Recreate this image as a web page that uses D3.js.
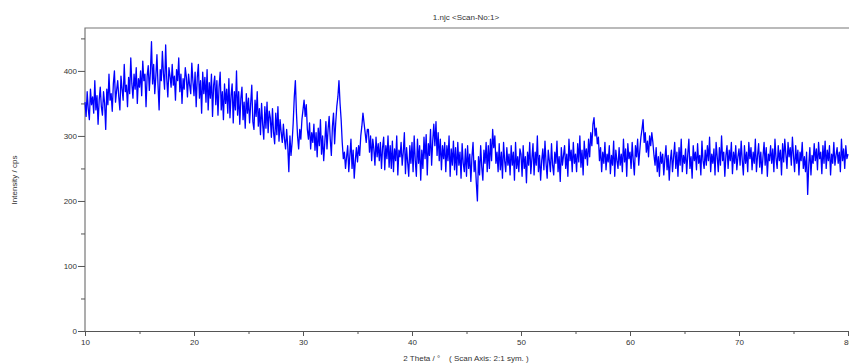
<!DOCTYPE html>
<html>
<head>
<meta charset="utf-8">
<script src="https://cdn.jsdelivr.net/npm/d3@7"></script>
<style>
  html, body { margin: 0; padding: 0; background: #fff; }
  svg { display: block; font-family: "Liberation Sans", Arial, sans-serif; }
</style>
</head>
<body>
<svg width="849" height="363"></svg>
<script>
// scan: 2theta from 10 to 80, step 0.1 deg, counts
const startAngle = 10;
const stepAngle = 0.1;

const counts10 = [
  352, 330, 368, 341, 325, 372, 348, 360, 335, 385,
  340, 362, 318, 355, 375, 345, 332, 368, 350, 310,
  372, 348, 395, 355, 365, 338, 380, 400, 352, 370,
  385, 360, 340, 392, 372, 355, 410, 368, 378, 345,
  390, 365, 420, 380, 358, 395, 372, 405, 350, 388,
  375, 400, 362, 415, 385, 395, 345, 392, 408, 370,
  398, 445, 380, 410, 365, 392, 425, 378, 340, 402,
  385, 430, 395, 372, 440, 388, 360, 405, 392, 375,
  410, 378, 392, 355, 402, 385, 420, 368, 395, 350,
  388, 372, 405, 390, 360, 395, 378, 365, 412, 384
];
const counts20 = [
  362, 398, 345, 390, 410, 358, 385, 335, 398, 365,
  390, 352, 402, 340, 382, 358, 395, 330, 378, 392,
  348, 385, 332, 375, 398, 340, 368, 325, 380, 350,
  372, 335, 388, 328, 362, 380, 320, 368, 340, 400,
  332, 368, 318, 358, 375, 325, 352, 312, 365, 335,
  358, 320, 350, 378, 322, 310, 355, 330, 368, 315,
  342, 302, 350, 318, 295, 345, 312, 352, 305, 338,
  328, 298, 342, 305, 288, 335, 302, 345, 292, 325,
  305, 290, 318, 295, 280, 310, 285, 245, 300, 270,
  290, 320, 360, 385, 335, 300, 280, 310, 295, 325
];
const counts30 = [
  340, 355, 330, 348, 310, 295, 320, 280, 305, 290,
  318, 278, 305, 268, 312, 285, 325, 272, 300, 262,
  290, 322, 280, 310, 330, 295, 270, 315, 335, 288,
  320, 345, 360, 385, 350, 325, 290, 265, 275, 250,
  268, 285, 245, 270, 295, 250, 278, 235, 262, 282,
  260, 285, 270, 300, 315, 335, 320, 305, 290, 310,
  310, 275, 300, 262, 295, 280, 255, 298, 268, 288,
  262, 290, 250, 282, 298, 248, 285, 265, 300, 252,
  285, 250, 292, 245, 280, 262, 300, 240, 278, 268,
  290, 255, 275, 305, 242, 282, 260, 238, 285, 258
];
const counts40 = [
  290, 245, 300, 262, 238, 295, 258, 285, 232, 278,
  250, 298, 265, 302, 240, 288, 270, 310, 255, 292,
  318, 285, 322, 270, 305, 262, 295, 248, 285, 265,
  290, 245, 285, 262, 300, 238, 280, 255, 292, 248,
  282, 240, 290, 255, 275, 235, 288, 258, 245, 280,
  238, 285, 250, 272, 230, 268, 290, 245, 262, 228,
  200, 268, 240, 285, 252, 232, 278, 258, 290, 245,
  285, 250, 295, 262, 310, 282, 300, 258, 275, 245,
  288, 248, 275, 235, 290, 262, 245, 282, 255, 272,
  240, 285, 255, 275, 232, 290, 250, 268, 245, 280
];
const counts50 = [
  272, 238, 285, 250, 268, 228, 275, 255, 290, 242,
  265, 288, 240, 275, 255, 300, 245, 270, 232, 262,
  280, 248, 292, 258, 235, 278, 262, 245, 288, 255,
  240, 275, 258, 292, 245, 268, 230, 282, 255, 270,
  285, 250, 272, 238, 295, 262, 278, 245, 290, 258,
  272, 245, 288, 260, 300, 252, 278, 240, 292, 265,
  280, 255, 295, 268, 305, 285, 318, 328, 300, 312,
  288, 298, 262, 282, 245, 275, 258, 290, 248, 272,
  260, 285, 242, 270, 255, 292, 238, 278, 262, 250,
  282, 255, 272, 245, 295, 260, 280, 238, 288, 265
];
const counts60 = [
  275, 250, 290, 262, 240, 285, 268, 295, 255, 278,
  298, 310, 325, 290, 305, 275, 292, 268, 300, 285,
  305, 290, 270, 255, 282, 245, 268, 238, 275, 258,
  272, 240, 265, 285, 248, 270, 232, 262, 278, 245,
  268, 290, 250, 275, 238, 282, 255, 295, 245, 270,
  258, 280, 242, 272, 295, 250, 268, 235, 285, 262,
  275, 248, 288, 258, 270, 240, 292, 262, 250, 278,
  255, 285, 262, 298, 245, 272, 258, 280, 240, 290,
  268, 245, 282, 255, 300, 262, 275, 238, 270, 285,
  250, 278, 262, 290, 242, 275, 258, 285, 248, 268
];
const counts70 = [
  280, 255, 292, 262, 240, 285, 258, 275, 245, 290,
  265, 282, 248, 275, 258, 295, 245, 270, 288, 252,
  275, 242, 268, 290, 255, 282, 238, 272, 262, 285,
  258, 280, 245, 295, 265, 250, 285, 262, 278, 240,
  288, 260, 295, 272, 250, 290, 268, 282, 255, 298,
  270, 245, 285, 258, 278, 240, 275, 262, 290, 250,
  268, 245, 275, 210, 255, 282, 240, 270, 258, 288,
  262, 280, 248, 290, 265, 275, 242, 285, 258, 292,
  250, 278, 262, 285, 240, 272, 258, 290, 255, 270,
  282, 258, 275, 245, 295, 262, 280, 250, 285, 265,
  272
];

const xTicks = [10, 20, 30, 40, 50, 60, 70, 80];
const yTicks = [0, 100, 200, 300, 400];

const title = '1.njc <Scan-No:1>';
const xTitle = '2 Theta / \u00b0    ( Scan Axis: 2:1 sym. )';
const yTitle = 'Intensity / cps';

const width = 849;
const height = 363;
const margin = {top: 28, right: 1, bottom: 32, left: 85};

const data = [].concat(counts10, counts20, counts30, counts40, counts50, counts60, counts70)
    .map((c, i) => ({t: startAngle + i * stepAngle, c}));

const x = d3.scaleLinear().domain([10, 80]).range([margin.left, 848]);
const y = d3.scaleLinear().domain([0, 466]).range([height - margin.bottom, margin.top]);

const svg = d3.select('svg');
const axisColor = '#555';

// frame
svg.append('path')
    .attr('d', `M${margin.left},${height - margin.bottom}V${margin.top}H${width + 5}`)
    .attr('fill', 'none')
    .attr('stroke', '#777')
    .attr('stroke-width', 1.2);

// data
svg.append('path')
    .datum(data)
    .attr('fill', 'none')
    .attr('stroke', '#0000ff')
    .attr('stroke-width', 1.3)
    .attr('stroke-linejoin', 'round')
    .attr('d', d3.line().x(d => x(d.t)).y(d => y(d.c)));

// x axis
const xAxis = g => g.attr('transform', `translate(0,${height - margin.bottom})`)
    .call(d3.axisBottom(x).tickValues(d3.range(10, 81, 5)).tickSize(5)
        .tickFormat(d => xTicks.includes(d) ? d : ''))
    .call(g => g.select('.domain').attr('stroke', axisColor).attr('d', `M${margin.left},0.5H${width + 5}`))
    .call(g => g.selectAll('.tick line').attr('stroke', axisColor)
        .attr('y2', d => xTicks.includes(d) ? 5 : 3))
    .call(g => g.selectAll('.tick text').attr('fill', '#333').attr('font-size', 8).attr('y', 8));

const yAxis = g => g.attr('transform', `translate(${margin.left},0)`)
    .call(d3.axisLeft(y).tickValues(d3.range(0, 451, 50)).tickSize(6)
        .tickFormat(d => yTicks.includes(d) ? d : ''))
    .call(g => g.select('.domain').remove())
    .call(g => g.selectAll('.tick line').attr('stroke', axisColor)
        .attr('x2', d => yTicks.includes(d) ? -7 : -4))
    .call(g => g.selectAll('.tick text').attr('fill', '#333').attr('font-size', 8).attr('x', -8));

svg.append('g').call(xAxis).attr('font-family', null);
svg.append('g').call(yAxis).attr('font-family', null);

svg.append('text')
    .attr('x', 466).attr('y', 20)
    .attr('text-anchor', 'middle')
    .attr('font-size', 8)
    .attr('fill', '#333')
    .text(title);

svg.append('text')
    .attr('x', 466).attr('y', 361)
    .attr('text-anchor', 'middle')
    .attr('font-size', 8)
    .attr('fill', '#333')
    .attr('xml:space', 'preserve')
    .style('white-space', 'pre')
    .text(xTitle);

svg.append('text')
    .attr('transform', 'translate(17,180) rotate(-90)')
    .attr('text-anchor', 'middle')
    .attr('font-size', 8)
    .attr('fill', '#333')
    .text(yTitle);
</script>
</body>
</html>
